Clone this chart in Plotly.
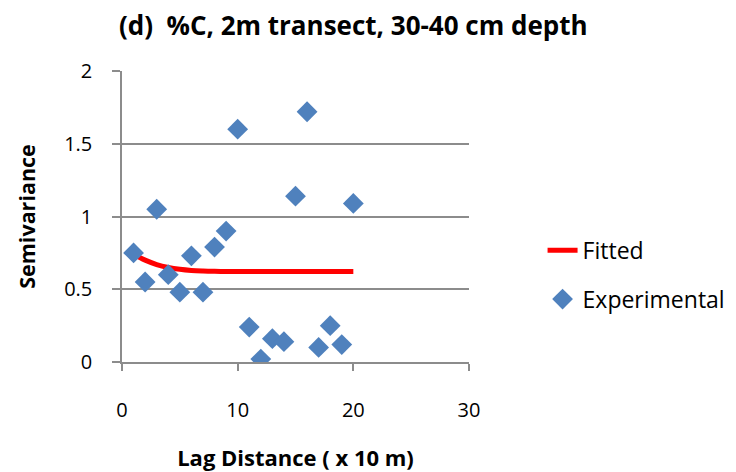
import plotly.graph_objects as go

lag = list(range(1, 21))
experimental = [0.75, 0.55, 1.05, 0.60, 0.48, 0.73, 0.48, 0.79, 0.90, 1.60,
                0.24, 0.02, 0.16, 0.14, 1.14, 1.72, 0.10, 0.25, 0.12, 1.09]
fitted = [0.74, 0.70, 0.67, 0.65, 0.637, 0.629, 0.625, 0.623, 0.622, 0.622,
          0.622, 0.622, 0.622, 0.622, 0.622, 0.622, 0.622, 0.622, 0.622, 0.622]

FONT = "Open Sans"

fig = go.Figure()
fig.add_trace(go.Scatter(x=lag, y=fitted, mode="lines", name="Fitted",
                         line=dict(color="#FF0000", width=5, shape="spline"),
                         legendgroup="a"))
fig.add_trace(go.Scatter(x=lag, y=experimental, mode="markers", name="Experimental",
                         marker=dict(symbol="diamond", size=16, color="#4F81BD"),
                         legendgroup="b"))

fig.update_layout(
    width=736, height=472,
    margin=dict(l=122, r=267, t=71, b=110, autoexpand=False),
    paper_bgcolor="white", plot_bgcolor="white",
    font=dict(family=FONT, size=20, color="black"),
    title=dict(text="<b>(d)  %C, 2m transect, 30-40 cm depth</b>",
               x=0.48, xanchor="center", y=0.945, yanchor="middle",
               font=dict(size=26, family=FONT)),
    showlegend=True,
    legend=dict(x=1.212, y=0.300, xanchor="left", yanchor="middle",
                tracegroupgap=16, font=dict(size=23),
                bgcolor="rgba(0,0,0,0)"),
    xaxis=dict(range=[0, 30], tickvals=[0, 10, 20, 30], showgrid=False,
               showline=True, linecolor="#8C8C8C", linewidth=1.5,
               ticks="outside", ticklen=7, tickcolor="#8C8C8C", tickwidth=1.5,
               zeroline=False, ticklabelstandoff=22, automargin=False,
               title=dict(text="<b>Lag Distance ( x 10 m)</b>", standoff=34,
                          font=dict(size=22))),
    yaxis=dict(range=[0, 2], tickvals=[0, 0.5, 1, 1.5, 2],
               ticktext=["0", "0.5", "1", "1.5", "2"],
               showgrid=True, gridcolor="#8C8C8C", gridwidth=1.5,
               showline=True, linecolor="#8C8C8C", linewidth=1.5,
               ticks="outside", ticklen=8, tickcolor="#8C8C8C", tickwidth=1.5,
               zeroline=False, ticklabelstandoff=16, automargin=False,
               title=dict(text="<b>Semivariance</b>", standoff=23,
                          font=dict(size=21.5))),
)

fig.write_html("out.html")
